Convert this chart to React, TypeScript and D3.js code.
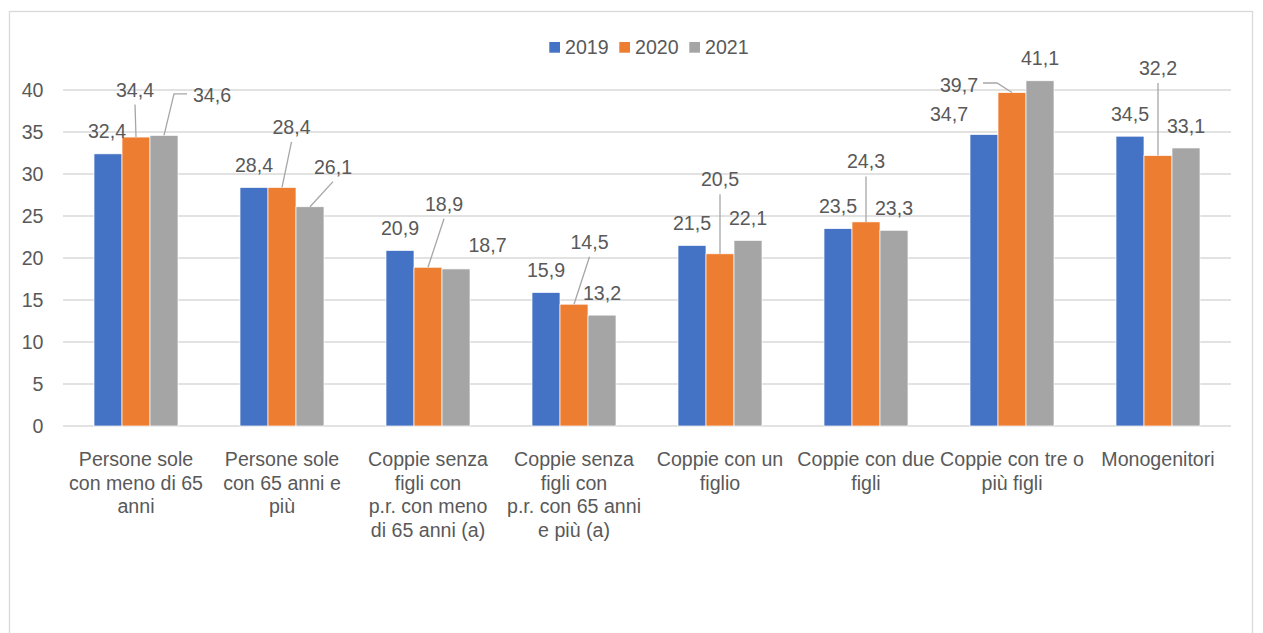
import React from "react";
import * as d3 from "d3";

const categories: string[][] = [
  ["Persone sole", "con meno di 65", "anni"],
  ["Persone sole", "con 65 anni e", "più"],
  ["Coppie senza", "figli con", "p.r. con meno", "di 65 anni (a)"],
  ["Coppie senza", "figli con", "p.r. con 65 anni", "e più (a)"],
  ["Coppie con un", "figlio"],
  ["Coppie con due", "figli"],
  ["Coppie con tre o", "più figli"],
  ["Monogenitori"],
];
const seriesNames = ["2019", "2020", "2021"];
const values2019 = [32.4, 28.4, 20.9, 15.9, 21.5, 23.5, 34.7, 34.5];
const values2020 = [34.4, 28.4, 18.9, 14.5, 20.5, 24.3, 39.7, 32.2];
const values2021 = [34.6, 26.1, 18.7, 13.2, 22.1, 23.3, 41.1, 33.1];
const yTicks = [0, 5, 10, 15, 20, 25, 30, 35, 40];
const colors = ["#4472C4", "#ED7D31", "#A5A5A5"];

// label layout: [dx, dy, leader] per series per category; leader: 0 none, 1 from below, 2 from label's left side, 3 from label's right side
const labelLayout2019: [number, number, number][] = [[-1, 0, 0], [0, 0, 0], [0, 0, 0], [0, 0, 0], [0, 0, 0], [0, 0, 0], [-35, 2, 0], [0, 0, 0]];
const labelLayout2020: [number, number, number][] = [[-1, -25, 1], [9.5, -38, 1], [16, -41, 1], [15.5, -40, 1], [0, -52, 1], [0, -38, 1], [-53, 15, 3], [0, -65, 1]];
const labelLayout2021: [number, number, number][] = [[48, -18, 2], [23, -17.6, 1], [31.5, -1.4, 0], [0, 0, 0], [0, 0, 0], [0, 0, 0], [0, 0, 0], [0, 0, 0]];

const seriesValues = [values2019, values2020, values2021];
const layouts = [labelLayout2019, labelLayout2020, labelLayout2021];

const FONT = "'Liberation Sans Narrow', 'Arial Narrow', 'Liberation Sans', Arial, sans-serif";
const FS = 19.6;
const TEXT = "#595959";
const GRID = "#D9D9D9";

const fmt = (v: number) => v.toFixed(1).replace(".", ",");

export default function App() {
  const left = 63, right = 1231, top = 90, bottom = 426;
  const x0 = d3.scaleBand<number>().domain(d3.range(categories.length)).range([left, right]).padding(0);
  const bw0 = x0.bandwidth();
  const x1 = d3.scaleBand<number>().domain(d3.range(seriesNames.length)).range([0, bw0]).paddingInner(0).paddingOuter(1.107);
  const y = d3.scaleLinear().domain([0, 40]).range([bottom, top]);
  const bw = x1.bandwidth();

  const bars: JSX.Element[] = [];
  const labels: JSX.Element[] = [];
  seriesValues.forEach((vals, s) => {
    vals.forEach((v, i) => {
      const bx = (x0(i) as number) + (x1(s) as number);
      const by = y(v);
      bars.push(
        <rect key={`b${s}-${i}`} x={bx} y={by} width={bw} height={y(0) - by} fill={colors[s]} stroke="#fff" strokeWidth={0.7} />
      );
      const [dx, dy, leader] = layouts[s][i];
      const cx = bx + bw / 2;
      const lx = cx + dx;
      const ly = by - 22.5 + dy;
      const text = fmt(v);
      const tw = 34;
      let path: string | null = null;
      if (leader === 1) {
        path = `M${lx},${ly + 15}L${cx},${by}`;
      } else if (leader === 2) {
        const ex = lx - tw / 2 - 8;
        path = `M${ex},${ly - 1}L${ex - 13},${ly - 1}L${cx},${by}`;
      } else if (leader === 3) {
        const ex = lx + tw / 2 + 7;
        path = `M${ex},${ly - 2}L${ex + 14},${ly - 2}L${cx},${by}`;
      }
      labels.push(
        <g key={`l${s}-${i}`}>
          {path && <path d={path} fill="none" stroke="#A6A6A6" strokeWidth={1.3} />}
          <text x={lx} y={ly} dy="0.36em" textAnchor="middle" fill={TEXT} fontSize={FS} fontFamily={FONT}>
            {text}
          </text>
        </g>
      );
    });
  });

  return (
    <svg width={1263} height={633} style={{ position: "absolute", left: 0, top: 0, background: "#fff" }}>
      <rect x={0} y={0} width={1263} height={633} fill="#fff" />
      <rect x={9.5} y={11.5} width={1243} height={680} fill="none" stroke={GRID} strokeWidth={1.3} />
      {yTicks.map((t) => (
        <g key={`t${t}`}>
          <line x1={left} x2={right} y1={y(t)} y2={y(t)} stroke={GRID} strokeWidth={1.3} />
          <text x={43.5} y={y(t)} dy="0.36em" textAnchor="end" fill={TEXT} fontSize={FS} fontFamily={FONT}>
            {t}
          </text>
        </g>
      ))}
      {bars}
      {labels}
      {categories.map((lines, i) => (
        <text key={`c${i}`} x={(x0(i) as number) + bw0 / 2} y={466} textAnchor="middle" fill={TEXT} fontSize={FS} fontFamily={FONT}>
          {lines.map((ln, k) => (
            <tspan key={k} x={(x0(i) as number) + bw0 / 2} y={466 + k * 23.7}>
              {ln}
            </tspan>
          ))}
        </text>
      ))}
      {seriesNames.map((n, s) => (
        <g key={`lg${s}`} transform={`translate(${549.3 + s * 70},0)`}>
          <rect x={0} y={42} width={10.7} height={10.7} fill={colors[s]} />
          <text x={15.7} y={47.3} dy="0.36em" fill={TEXT} fontSize={FS} fontFamily={FONT}>
            {n}
          </text>
        </g>
      ))}
    </svg>
  );
}
